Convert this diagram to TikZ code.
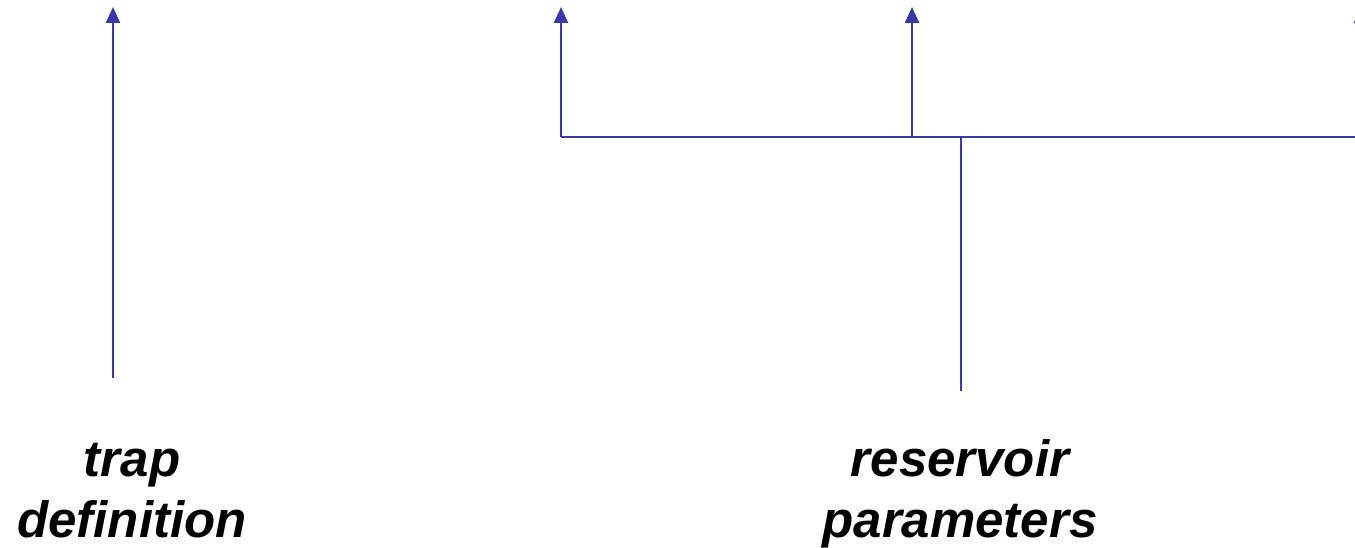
\documentclass[tikz,border=0pt]{standalone}
\usepackage{fontspec}
\setmainfont{Liberation Sans}
\usetikzlibrary{arrows.meta}
\definecolor{linec}{RGB}{56,56,166}
\begin{document}
\begin{tikzpicture}[x=1pt,y=-1pt,
  conn/.style={draw=linec,line width=2.4pt},
  arr/.style={conn,-{Triangle[width=14pt,length=16pt]}},
  lbl/.style={font=\fontsize{51}{61}\selectfont\bfseries\itshape,align=center,anchor=base,inner sep=0pt}]
\useasboundingbox (0,0) rectangle (1355,548);
\clip (0,0) rectangle (1355,548);
% labels
\node[lbl] (trap) at (132,537) {trap\\definition};
\node[lbl] (res) at (960,537) {reservoir\\parameters};
% coordinates
\coordinate (trapfoot) at (113,378);
\coordinate (traptop) at (113,7);
\coordinate (resfoot) at (961,391);
\coordinate (join) at (961,137);
\coordinate (left) at (561,137);
\coordinate (mid) at (912,137);
\coordinate (right) at (1361,137);
\coordinate (lefttop) at (561,7);
\coordinate (midtop) at (912,7);
\coordinate (righttop) at (1361,7);
% connectors
\draw[arr] (trapfoot) -- (traptop);
\draw[conn] (resfoot) -- (join);
\draw[conn] (left) -- (right);
\draw[arr] (left) -- (lefttop);
\draw[arr] (mid) -- (midtop);
\draw[arr] (right) -- (righttop);
\end{tikzpicture}
\end{document}
